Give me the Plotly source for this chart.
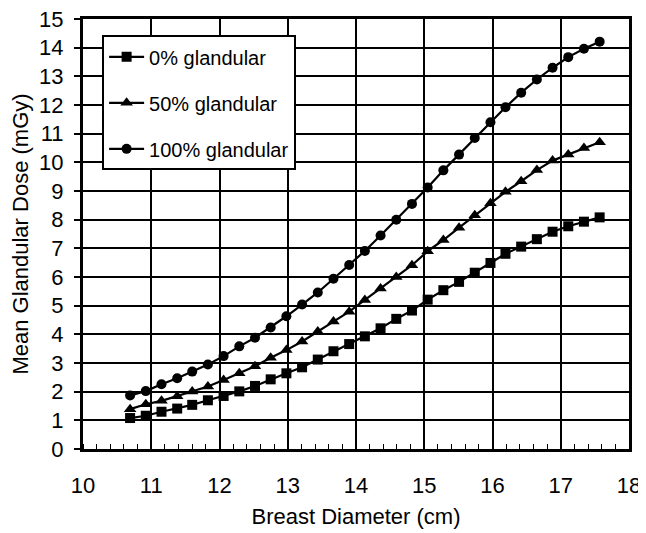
import plotly.graph_objects as go

diameter_cm = [10.69, 10.92, 11.15, 11.38, 11.60, 11.83, 12.06, 12.29, 12.52, 12.75,
               12.98, 13.21, 13.44, 13.67, 13.90, 14.13, 14.36, 14.59, 14.82, 15.05,
               15.28, 15.51, 15.74, 15.97, 16.19, 16.42, 16.65, 16.88, 17.11, 17.34, 17.57]

dose_0 = [1.08, 1.16, 1.30, 1.41, 1.54, 1.70, 1.85, 2.01, 2.20, 2.43,
          2.64, 2.85, 3.12, 3.41, 3.66, 3.93, 4.21, 4.54, 4.83, 5.21,
          5.54, 5.83, 6.15, 6.49, 6.81, 7.06, 7.32, 7.58, 7.77, 7.93, 8.08]

dose_50 = [1.39, 1.56, 1.68, 1.84, 2.01, 2.18, 2.41, 2.64, 2.89, 3.18,
           3.45, 3.75, 4.10, 4.45, 4.79, 5.20, 5.60, 6.00, 6.41, 6.90,
           7.29, 7.72, 8.15, 8.57, 8.97, 9.34, 9.73, 10.06, 10.27, 10.50, 10.70]

dose_100 = [1.87, 2.02, 2.26, 2.47, 2.70, 2.95, 3.24, 3.58, 3.88, 4.24,
            4.63, 5.04, 5.46, 5.94, 6.42, 6.91, 7.45, 8.00, 8.55, 9.12,
            9.72, 10.27, 10.85, 11.40, 11.92, 12.43, 12.89, 13.30, 13.67, 13.96, 14.21]

series_names = ["0% glandular", "50% glandular", "100% glandular"]
x_ticks = [10, 11, 12, 13, 14, 15, 16, 17, 18]
y_ticks = list(range(0, 16))

FONT = "Liberation Sans, Arial, Helvetica, sans-serif"

fig = go.Figure()
for name, ys, sym, sz, grp in [
    (series_names[0], dose_0, "square", 10, "a"),
    (series_names[1], dose_50, "triangle-up", 11, "b"),
    (series_names[2], dose_100, "circle", 10, "c"),
]:
    fig.add_trace(go.Scatter(
        x=diameter_cm, y=ys, name=name, mode="lines+markers",
        legendgroup=grp,
        line=dict(color="black", width=2.2),
        marker=dict(symbol=sym, size=sz, color="black"),
    ))

# The page body adds an 8px offset, so the figure is sized to fit the window.
fig.update_layout(
    width=638, height=525,
    margin=dict(l=75, r=17, t=11, b=84),
    paper_bgcolor="white", plot_bgcolor="white",
    font=dict(family=FONT, size=22, color="black"),
    showlegend=True,
    legend=dict(
        x=0.035, y=0.962, xanchor="left", yanchor="top",
        bgcolor="white", bordercolor="black", borderwidth=2,
        font=dict(family=FONT, size=20, color="black"),
        tracegroupgap=17, itemwidth=35,
    ),
)

fig.update_xaxes(
    range=[10, 18], tickvals=x_ticks, ticktext=[str(v) for v in x_ticks],
    showgrid=True, gridcolor="black", gridwidth=1.5,
    showline=True, linecolor="black", linewidth=3, mirror=True,
    ticks="", zeroline=False, automargin=False,
    ticklabelstandoff=15, ticklabeloverflow="allow",
    minor=dict(ticks="inside", dtick=0.2, tick0=10, ticklen=5, tickcolor="black", tickwidth=1, showgrid=False),
    title=dict(text="Breast Diameter (cm)", font=dict(size=22), standoff=12),
    tickfont=dict(size=22),
)
fig.update_yaxes(
    range=[0, 15], tickvals=y_ticks, ticktext=[str(v) for v in y_ticks],
    showgrid=True, gridcolor="black", gridwidth=1.5,
    showline=True, linecolor="black", linewidth=3, mirror=True,
    ticks="outside", ticklen=6, tickwidth=1.5, tickcolor="black", zeroline=False,
    automargin=False, ticklabelstandoff=6, ticklabeloverflow="allow",
    title=dict(text="Mean Glandular Dose (mGy)", font=dict(size=22), standoff=10),
    tickfont=dict(size=22),
)

fig.write_html("out.html")
